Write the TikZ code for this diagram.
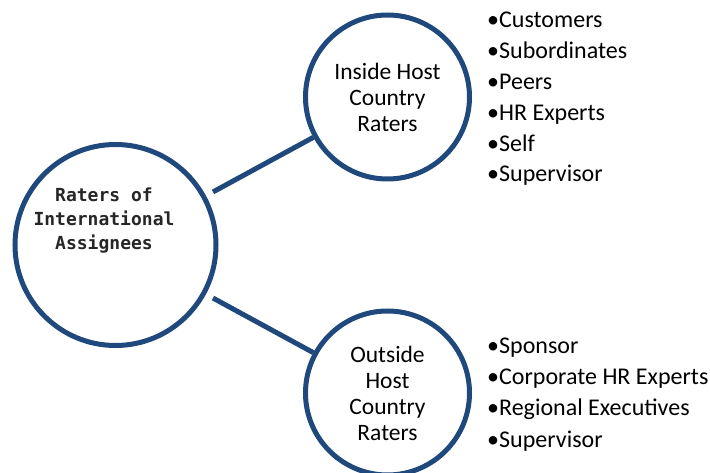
\documentclass[tikz,border=0pt]{standalone}
\usepackage{fontspec}
\setmainfont{Carlito}
\newfontfamily\monofnt{DejaVu Sans Mono}
\definecolor{ringblue}{HTML}{1F497D}
\tikzset{
  ring/.style={circle, draw=ringblue, line width=5pt, fill=white, inner sep=0pt},
  link/.style={draw=ringblue, line width=5pt},
  ringtext/.style={align=center, font=\fontsize{23.5}{26}\selectfont, inner sep=0pt},
  monotext/.style={align=center, font=\monofnt\bfseries\fontsize{18}{24}\selectfont, inner sep=0pt, text=black!85},
  item/.style={anchor=base west, inner sep=0pt, font=\fontsize{24}{28}\selectfont}
}
\begin{document}
\begin{tikzpicture}[x=1pt,y=1pt]
\useasboundingbox (0,0) rectangle (710,472);
\node[ring, minimum size=201pt] (big) at (115.5,227) {};
\node[monotext] (bigtext) at (104,251) {Raters of\\International\\Assignees};
\node[ring, minimum size=164pt, ringtext] (inside) at (387.5,375) {Inside Host\\Country\\Raters};
\node[ring, minimum size=164pt, ringtext] (outside) at (387.5,79) {Outside\\Host\\Country\\Raters};
\draw[link, shorten <=8pt] (big) -- (inside);
\draw[link, shorten <=8pt] (big) -- (outside);
\node[item] (i1) at (487,444) {•Customers};
\node[item] (i2) at (487,413.2) {•Subordinates};
\node[item] (i3) at (487,382.4) {•Peers};
\node[item] (i4) at (487,351.6) {•HR Experts};
\node[item] (i5) at (487,320.8) {•Self};
\node[item] (i6) at (487,290) {•Supervisor};
\node[item] (o1) at (487,119) {•Sponsor};
\node[item] (o2) at (487,87.7) {•Corporate HR Experts};
\node[item] (o3) at (487,56.4) {•Regional Executives};
\node[item] (o4) at (487,25) {•Supervisor};
\end{tikzpicture}
\end{document}
